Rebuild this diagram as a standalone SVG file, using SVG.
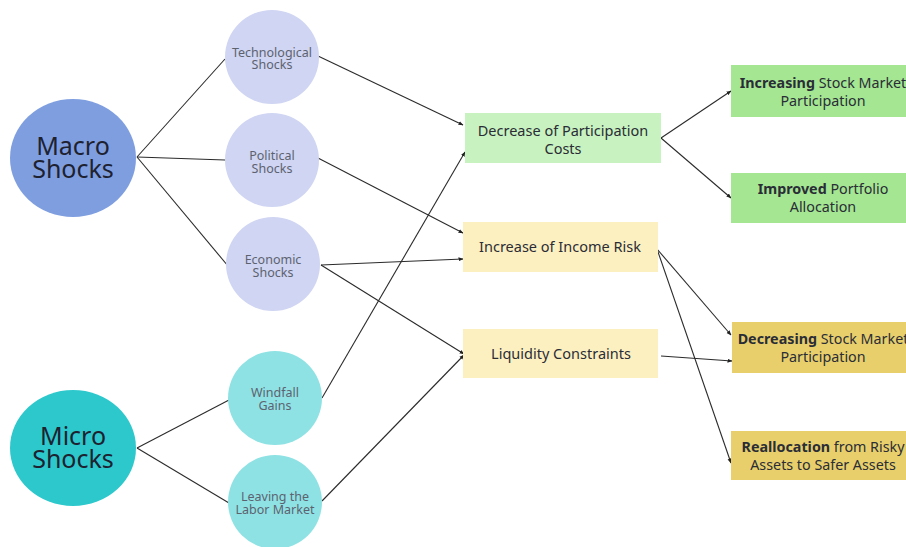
<svg xmlns="http://www.w3.org/2000/svg" width="906" height="547" viewBox="0 0 906 547">
<defs>
<marker id="ah" viewBox="0 0 10 10" refX="9" refY="5" markerWidth="5" markerHeight="5" orient="auto" markerUnits="userSpaceOnUse">
<path d="M0,1 L10,5 L0,9 z" fill="#222"/>
</marker>
<style>
.big{font-family:"Noto Sans","Open Sans",sans-serif;font-size:25px;fill:#1e2230;text-anchor:middle}
.sm{font-family:"Noto Sans","Open Sans",sans-serif;font-size:12.5px;fill:#5d6270;text-anchor:middle}
.bx{font-family:"Noto Sans","Open Sans",sans-serif;font-size:14.5px;fill:#2a2d36;text-anchor:middle}
.rx{font-family:"Noto Sans","Open Sans",sans-serif;font-size:14.3px;fill:#2a2d36;text-anchor:middle}
.b{font-weight:bold}
.ln{stroke:#2b2b2b;stroke-width:1.1;fill:none}
.ar{stroke:#2b2b2b;stroke-width:1.1;fill:none;marker-end:url(#ah)}
.mac{fill:#7e9ee0}
.sub1{fill:#cfd5f2}
.mic{fill:#2cc8cc}
.sub2{fill:#8ee2e4}
.g1{fill:#c8f2bf}
.y1{fill:#fdf0c0}
.g2{fill:#a4e692}
.y2{fill:#e8cf6c}
</style>
</defs>
<rect width="906" height="547" fill="#ffffff"/>
<g id="connectors">
<line class="ln" x1="137" y1="157" x2="225" y2="59"/>
<line class="ln" x1="137" y1="157" x2="225" y2="160"/>
<line class="ln" x1="137" y1="157" x2="228" y2="266"/>
<line class="ln" x1="137" y1="448" x2="229" y2="400"/>
<line class="ln" x1="137" y1="448" x2="229" y2="503"/>
<line class="ar" x1="318" y1="56" x2="463" y2="125"/>
<line class="ar" x1="318" y1="158" x2="463" y2="233"/>
<line class="ar" x1="321" y1="265" x2="463" y2="259"/>
<line class="ar" x1="321" y1="265" x2="464" y2="354"/>
<line class="ar" x1="322" y1="398" x2="465" y2="152"/>
<line class="ar" x1="322" y1="501" x2="464" y2="355"/>
<line class="ar" x1="661" y1="138" x2="731" y2="91"/>
<line class="ar" x1="661" y1="138" x2="731" y2="198"/>
<line class="ar" x1="657" y1="249" x2="731" y2="335"/>
<line class="ar" x1="657" y1="249" x2="731" y2="463"/>
<line class="ar" x1="661" y1="356" x2="732" y2="361"/>
</g>
<g id="macro">
<ellipse class="mac" cx="73" cy="158" rx="63" ry="59"/>
<text class="big" x="73" y="155">Macro</text>
<text class="big" x="73" y="178">Shocks</text>
</g>
<g id="micro">
<ellipse class="mic" cx="73" cy="448" rx="63" ry="58"/>
<text class="big" x="73" y="445">Micro</text>
<text class="big" x="73" y="468">Shocks</text>
</g>
<g id="tech">
<circle class="sub1" cx="272" cy="57" r="47"/>
<text class="sm" x="272" y="56.5">Technological</text>
<text class="sm" x="272" y="69">Shocks</text>
</g>
<g id="political">
<circle class="sub1" cx="272" cy="160" r="47"/>
<text class="sm" x="272" y="160">Political</text>
<text class="sm" x="272" y="172.5">Shocks</text>
</g>
<g id="economic">
<circle class="sub1" cx="273" cy="264" r="47"/>
<text class="sm" x="273" y="264">Economic</text>
<text class="sm" x="273" y="276.5">Shocks</text>
</g>
<g id="windfall">
<circle class="sub2" cx="275" cy="398" r="47"/>
<text class="sm" x="275" y="397">Windfall</text>
<text class="sm" x="275" y="409.5">Gains</text>
</g>
<g id="leaving">
<circle class="sub2" cx="275" cy="502" r="47"/>
<text class="sm" x="275" y="501">Leaving the</text>
<text class="sm" x="275" y="513.5">Labor Market</text>
</g>
<g id="decrease-costs">
<rect class="g1" x="465" y="113" width="196" height="50"/>
<text class="bx" x="563" y="136">Decrease of Participation</text>
<text class="bx" x="563" y="153.5">Costs</text>
</g>
<g id="income-risk">
<rect class="y1" x="463" y="222" width="195" height="50"/>
<text class="bx" x="560" y="252">Increase of Income Risk</text>
</g>
<g id="liquidity">
<rect class="y1" x="463" y="329" width="195" height="49"/>
<text class="bx" x="561" y="359">Liquidity Constraints</text>
</g>
<g id="increasing">
<rect class="g2" x="731" y="65" width="185" height="52"/>
<text class="rx" x="823" y="88"><tspan class="b">Increasing</tspan> Stock Market</text>
<text class="rx" x="823" y="106">Participation</text>
</g>
<g id="improved">
<rect class="g2" x="731" y="173" width="185" height="50"/>
<text class="rx" x="823" y="194"><tspan class="b">Improved</tspan> Portfolio</text>
<text class="rx" x="823" y="212">Allocation</text>
</g>
<g id="decreasing">
<rect class="y2" x="732" y="322" width="185" height="51"/>
<text class="rx" x="823" y="344"><tspan class="b">Decreasing</tspan> Stock Market</text>
<text class="rx" x="823" y="362">Participation</text>
</g>
<g id="reallocation">
<rect class="y2" x="731" y="431" width="185" height="49"/>
<text class="rx" x="823" y="452"><tspan class="b">Reallocation</tspan> from Risky</text>
<text class="rx" x="823" y="470">Assets to Safer Assets</text>
</g>
</svg>
